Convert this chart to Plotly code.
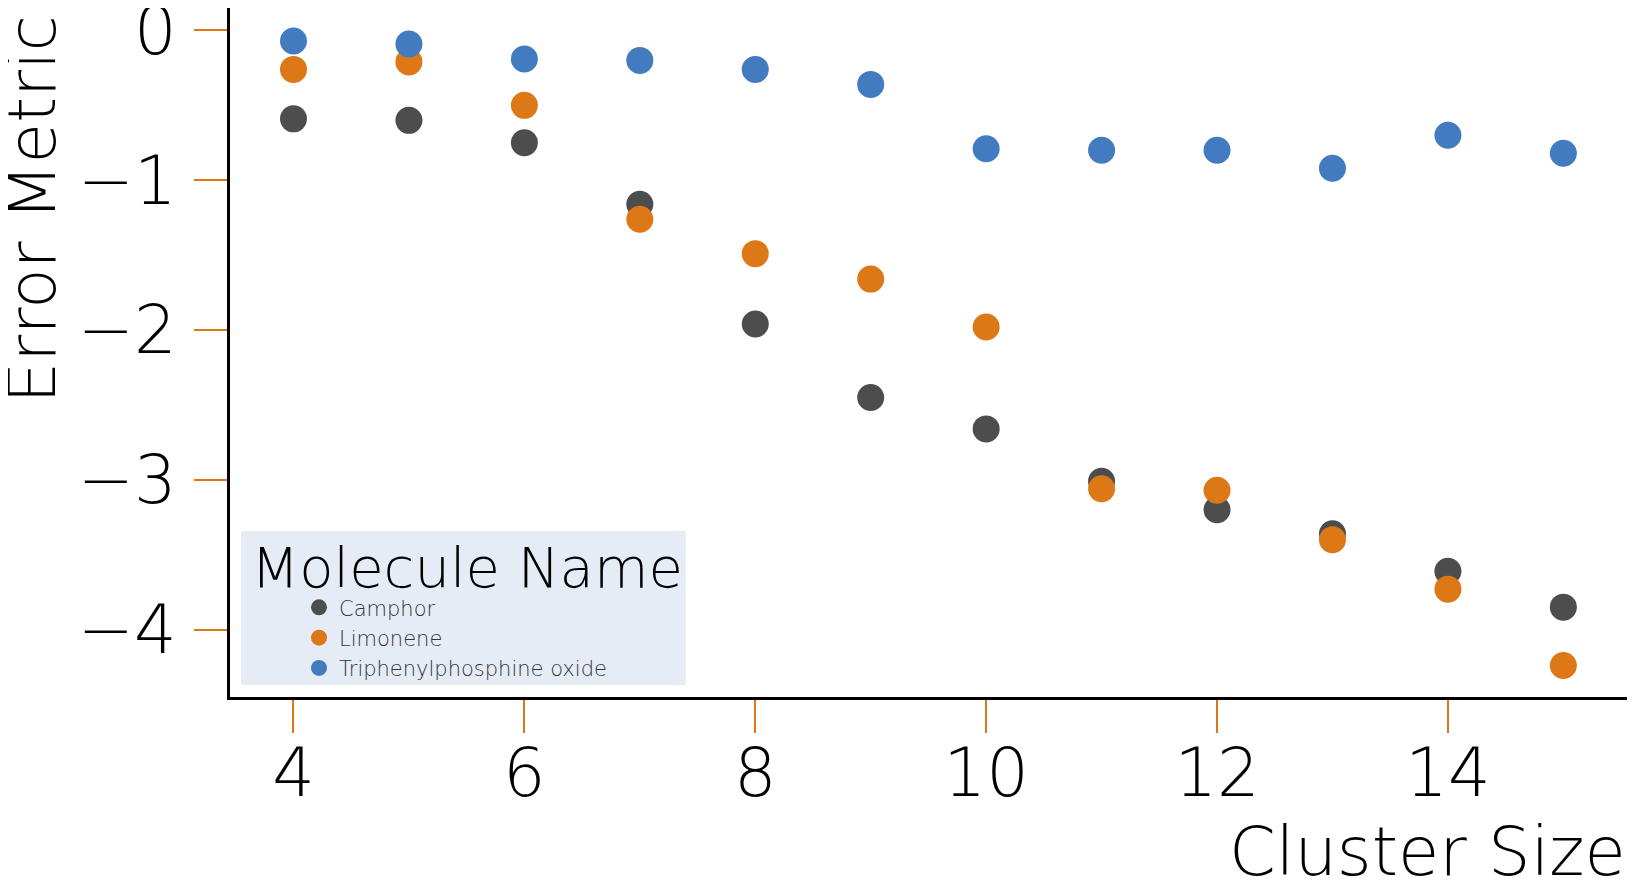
import plotly.graph_objects as go

cluster_size = [4, 5, 6, 7, 8, 9, 10, 11, 12, 13, 14, 15]

camphor = [-0.59, -0.60, -0.75, -1.16, -1.96, -2.45, -2.66, -3.01, -3.20, -3.36, -3.61, -3.85]
limonene = [-0.26, -0.21, -0.50, -1.26, -1.49, -1.66, -1.98, -3.06, -3.07, -3.40, -3.73, -4.24]
tppo = [-0.07, -0.09, -0.19, -0.20, -0.26, -0.36, -0.79, -0.80, -0.80, -0.92, -0.70, -0.82]

names = ["Camphor", "Limonene", "Triphenylphosphine oxide"]
colors = ["#4d4d4d", "#dd7817", "#427bbf"]

x_ticks = [4, 6, 8, 10, 12, 14]
y_ticks = [0, -1, -2, -3, -4]

FONT = "DejaVu Sans"

fig = go.Figure()
for name, vals, col in zip(names, [camphor, limonene, tppo], colors):
    fig.add_trace(go.Scatter(
        x=cluster_size, y=vals, name=name, mode="markers",
        marker=dict(color=col, size=27, line=dict(width=0))))

axis_common = dict(
    showgrid=False, zeroline=False, automargin=False,
    showline=True, linecolor="black", linewidth=3,
    ticks="outside", ticklen=33, tickwidth=2, tickcolor="#dd7817",
    tickfont=dict(family=FONT, size=67, color="black", weight=200),
    ticklabeloverflow="allow",
)

fig.update_xaxes(range=[3.45, 15.56], tickvals=x_ticks, ticklabelstandoff=-17, **axis_common)
fig.update_yaxes(range=[-4.45, 0.15], tickvals=y_ticks, ticklabelstandoff=4, **axis_common)

# legend background box (drawn as a shape so its size can match)
fig.add_shape(type="rect", xref="paper", yref="paper",
              x0=0.0079, x1=0.326, y0=0.0174, y1=0.241,
              fillcolor="#E5ECF6", line=dict(width=0), layer="below")

fig.update_layout(
    width=1627, height=873,
    margin=dict(l=222, r=7, t=0, b=184),
    plot_bgcolor="white", paper_bgcolor="white",
    font=dict(family=FONT),
    legend=dict(
        x=0.0136, y=0.265, xanchor="left", yanchor="top",
        bgcolor="rgba(0,0,0,0)",
        title=dict(text="Molecule Name", font=dict(family=FONT, size=56, color="black", weight=200)),
        font=dict(family=FONT, size=21, color="#333333", weight=200),
        indentation=50,
    ),
    annotations=[
        dict(text="Cluster Size", xref="paper", yref="paper", x=1.0, y=-0.225,
             xanchor="right", yanchor="middle", showarrow=False,
             font=dict(family=FONT, size=67, color="black", weight=200)),
        dict(text="Error Metric", xref="paper", yref="paper", x=-0.141, y=0.992,
             xanchor="center", yanchor="top", showarrow=False, textangle=-90,
             font=dict(family=FONT, size=66, color="black", weight=200)),
    ],
)

fig.write_html("out.html")
